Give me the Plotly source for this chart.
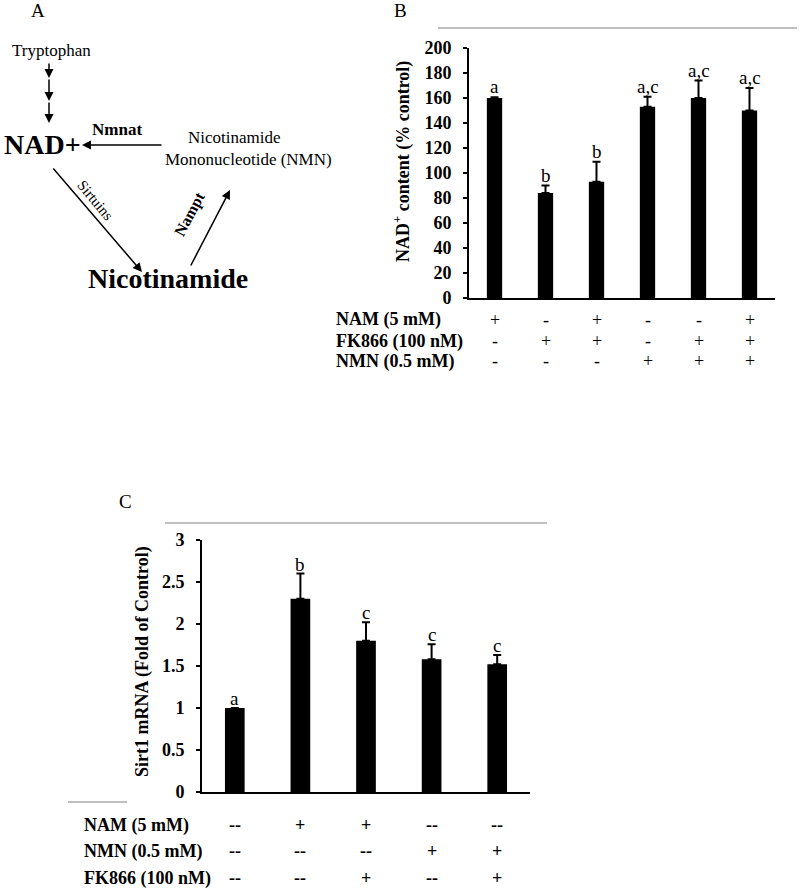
import plotly.graph_objects as go

W, H = 800, 892
SERIF = "Liberation Serif"

# ---------------- Data ----------------
b_groups = [0, 1, 2, 3, 4, 5]
b_values = [160, 84, 93, 153, 160, 150]
b_errors = [0.5, 6, 16, 8, 14, 18]
b_letters = ["a", "b", "b", "a,c", "a,c", "a,c"]
b_row_labels = ["NAM (5 mM)", "FK866 (100 nM)", "NMN (0.5 mM)"]
b_rows = [
    ["+", "-", "+", "-", "-", "+"],
    ["-", "+", "+", "-", "+", "+"],
    ["-", "-", "-", "+", "+", "+"],
]
b_ticks = [0, 20, 40, 60, 80, 100, 120, 140, 160, 180, 200]

c_groups = [0, 1, 2, 3, 4]
c_values = [1.0, 2.30, 1.80, 1.58, 1.52]
c_errors = [0.0, 0.30, 0.22, 0.18, 0.11]
c_letters = ["a", "b", "c", "c", "c"]
c_row_labels = ["NAM (5 mM)", "NMN (0.5 mM)", "FK866 (100 nM)"]
c_rows = [
    ["--", "+", "+", "--", "--"],
    ["--", "--", "--", "+", "+"],
    ["--", "--", "+", "--", "+"],
]
c_ticks = [0, 0.5, 1, 1.5, 2, 2.5, 3]
c_ticklabels = ["0", "0.5", "1", "1.5", "2", "2.5", "3"]


def X(px):
    return px / W


def Y(py):
    return 1 - py / H


fig = go.Figure()

fig.add_trace(go.Bar(
    x=b_groups, y=b_values, width=0.3, marker=dict(color="black", line=dict(width=0)),
    error_y=dict(type="data", array=b_errors, arrayminus=[0] * len(b_errors),
                 color="black", thickness=2, width=4),
    xaxis="x", yaxis="y", showlegend=False,
))
fig.add_trace(go.Bar(
    x=c_groups, y=c_values, width=0.3, marker=dict(color="black", line=dict(width=0)),
    error_y=dict(type="data", array=c_errors, arrayminus=[0] * len(c_errors),
                 color="black", thickness=2, width=4),
    xaxis="x2", yaxis="y2", showlegend=False,
))

axis_common = dict(showline=True, linecolor="black", linewidth=2, showgrid=False,
                   zeroline=False, automargin=False)

fig.update_layout(
    width=W, height=H, margin=dict(l=0, r=0, t=0, b=0, pad=0, autoexpand=False),
    showlegend=False,
    paper_bgcolor="white", plot_bgcolor="white",
    font=dict(family=SERIF, color="black"),
    xaxis=dict(domain=[X(469), X(775)], range=[-0.5, 5.5], showticklabels=False,
               ticks="", anchor="y", **axis_common),
    yaxis=dict(domain=[Y(298), Y(48)], range=[0, 200], tickvals=b_ticks,
               ticks="outside", ticklen=4, tickwidth=1.5, tickcolor="black",
               ticklabelstandoff=8, anchor="x",
               tickfont=dict(family=SERIF, size=18, weight="bold", color="black"),
               **axis_common),
    xaxis2=dict(domain=[X(202), X(530)], range=[-0.5, 4.5], showticklabels=False,
                ticks="", anchor="y2", **axis_common),
    yaxis2=dict(domain=[Y(792), Y(540)], range=[0, 3], tickvals=c_ticks,
                ticktext=c_ticklabels, ticks="outside", ticklen=4, tickwidth=1.5,
                tickcolor="black", ticklabelstandoff=8, anchor="x2",
                tickfont=dict(family=SERIF, size=18, weight="bold", color="black"),
                **axis_common),
)

ann = []

# letters over bars
for g, v, e, t in zip(b_groups, b_values, b_errors, b_letters):
    ann.append(dict(x=g, y=v + e, xref="x", yref="y", text=t, showarrow=False,
                    yanchor="bottom", yshift=-2, font=dict(size=19, family=SERIF)))
for g, v, e, t in zip(c_groups, c_values, c_errors, c_letters):
    ann.append(dict(x=g, y=v + e, xref="x2", yref="y2", text=t, showarrow=False,
                    yanchor="bottom", yshift=-3, font=dict(size=19, family=SERIF)))

# table under B
b_row_y = [320, 341, 361]
for lab, row, py in zip(b_row_labels, b_rows, b_row_y):
    ann.append(dict(x=X(334), y=Y(py), xref="paper", yref="paper", text="<b>%s</b>" % lab,
                    showarrow=False, xanchor="left", yanchor="middle",
                    font=dict(size=18, family=SERIF)))
    for g, s in zip(b_groups, row):
        ann.append(dict(x=g, y=Y(py), xref="x", yref="paper", text=s, showarrow=False,
                        xanchor="center", yanchor="middle", font=dict(size=18, family=SERIF)))

# table under C
c_row_y = [825, 851, 878]
for lab, row, py in zip(c_row_labels, c_rows, c_row_y):
    ann.append(dict(x=X(82), y=Y(py), xref="paper", yref="paper", text="<b>%s</b>" % lab,
                    showarrow=False, xanchor="left", yanchor="middle",
                    font=dict(size=18, family=SERIF)))
    for g, s in zip(c_groups, row):
        ann.append(dict(x=g, y=Y(py), xref="x2", yref="paper", text="<b>%s</b>" % s,
                        showarrow=False, xanchor="center", yanchor="middle",
                        font=dict(size=18, family=SERIF)))

# y axis titles
ann.append(dict(x=X(402), y=Y(161), xref="paper", yref="paper",
                text="<b>NAD<sup>+</sup> content (% control)</b>", textangle=-90,
                showarrow=False, xanchor="center", yanchor="middle",
                font=dict(size=18, family=SERIF)))
ann.append(dict(x=X(142), y=Y(662), xref="paper", yref="paper",
                text="<b>Sirt1 mRNA (Fold of Control)</b>", textangle=-90,
                showarrow=False, xanchor="center", yanchor="middle",
                font=dict(size=18, family=SERIF)))

# panel letters
for t, px, py in [("A", 38, 10), ("B", 400, 10), ("C", 125, 502)]:
    ann.append(dict(x=X(px), y=Y(py), xref="paper", yref="paper", text=t, showarrow=False,
                    xanchor="center", yanchor="middle", font=dict(size=19, family=SERIF)))

# Panel A diagram texts
diagram_texts = [
    ("Tryptophan", 51, 50, 17, 0),
    ("<b>NAD+</b>", 42, 145, 28, 0),
    ("<b>Nmnat</b>", 117, 129, 17, 0),
    ("Nicotinamide", 234, 137, 17, 0),
    ("Mononucleotide (NMN)", 248, 160, 17, 0),
    ("Sirtuins", 95, 200, 15, 50),
    ("<b>Nampt</b>", 190, 214, 16, -62),
    ("<b>Nicotinamide</b>", 168, 278, 28, 0),
]
for t, px, py, sz, ang in diagram_texts:
    ann.append(dict(x=X(px), y=Y(py), xref="paper", yref="paper", text=t, showarrow=False,
                    xanchor="center", yanchor="middle", textangle=ang,
                    font=dict(size=sz, family=SERIF)))

# Panel A arrows: (tail_x, tail_y, head_x, head_y)
arrows = [
    (49, 62, 49, 78),
    (49, 78, 49, 101),
    (49, 101, 49, 123),
    (163, 145, 82, 145),
    (52, 167, 142, 272),
    (190, 267, 230, 190),
]
for tx, ty, hx, hy in arrows:
    ann.append(dict(x=X(hx), y=Y(hy), xref="paper", yref="paper", text="",
                    showarrow=True, ax=tx - hx, ay=ty - hy, axref="pixel", ayref="pixel",
                    arrowhead=2, arrowsize=1.2, arrowwidth=1.5, arrowcolor="black",
                    standoff=0, startstandoff=0))

fig.update_layout(annotations=ann)

# grey separator lines
shapes = []
for x0, y0, x1, y1 in [(438, 28, 797, 28), (165, 523, 547, 523), (68, 802, 127, 802)]:
    shapes.append(dict(type="line", xref="paper", yref="paper", x0=X(x0), y0=Y(y0),
                       x1=X(x1), y1=Y(y1), line=dict(color="#aaaaaa", width=1.5)))
fig.update_layout(shapes=shapes)

fig.write_html("out.html", config={"displayModeBar": False},
               post_script="document.body.style.margin='0';")
